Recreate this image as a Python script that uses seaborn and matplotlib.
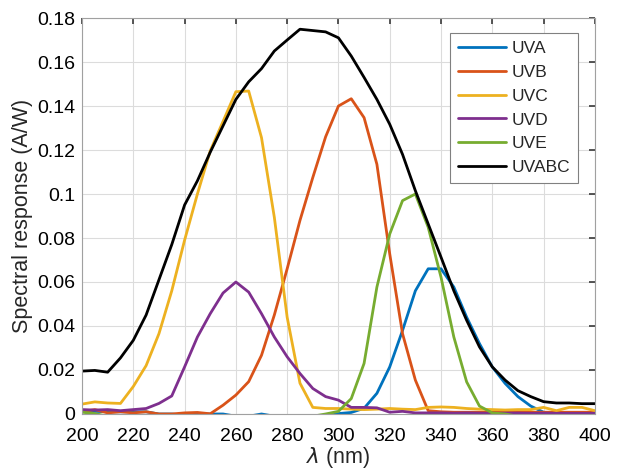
import numpy as np
import pandas as pd
import matplotlib
matplotlib.use("Agg")
import matplotlib.pyplot as plt
import seaborn as sns

wavelength = list(range(200, 401, 5))

uva = [0.0015, 0.0012, 0.001, 0.001, 0.001, 0.001, 0.0, 0.0, -0.0005, 0.0,
       0.0, 0.0, -0.001, -0.001, 0.0, -0.001, -0.001, -0.001, -0.001, -0.001,
       0.0002, 0.0007, 0.0026, 0.0094, 0.0214, 0.038, 0.056, 0.066, 0.066, 0.0577,
       0.044, 0.032, 0.0214, 0.0139, 0.0079, 0.0036, 0.0008, 0.0, -0.0005, 0.0,
       0.0]
uvb = [0.001, 0.002, 0.0005, 0.001, 0.0005, 0.001, 0.0, 0.0, 0.0005, 0.0007,
       0.0001, 0.004, 0.0086, 0.0147, 0.0267, 0.045, 0.066, 0.088, 0.1075, 0.126,
       0.140, 0.1433, 0.1347, 0.1135, 0.0728, 0.0365, 0.0154, 0.0015, 0.001, 0.0008,
       0.0008, 0.0008, 0.0008, 0.0008, 0.0008, 0.0008, 0.0008, 0.0008, 0.0008, 0.0008,
       0.0008]
uvc = [0.0045, 0.0055, 0.005, 0.0048, 0.0125, 0.022, 0.0365, 0.056, 0.079, 0.100,
       0.1196, 0.133, 0.1465, 0.1468, 0.1256, 0.0894, 0.044, 0.014, 0.003, 0.0025,
       0.0025, 0.0022, 0.002, 0.0022, 0.0025, 0.0022, 0.002, 0.003, 0.0032, 0.003,
       0.0025, 0.0022, 0.002, 0.0018, 0.002, 0.002, 0.003, 0.0015, 0.003, 0.003,
       0.0015]
uvd = [0.002, 0.0018, 0.002, 0.0015, 0.002, 0.0025, 0.0048, 0.0082, 0.0214, 0.035,
       0.0456, 0.055, 0.060, 0.0554, 0.0456, 0.035, 0.026, 0.0184, 0.0116, 0.0079,
       0.0063, 0.003, 0.003, 0.0028, 0.0008, 0.0012, 0.0005, 0.0005, 0.0005, 0.0004,
       0.0005, 0.0004, 0.0003, 0.0004, 0.0004, 0.0003, 0.0004, 0.0003, 0.0003, 0.0003,
       0.0003]
uve = [0.0008, 0.0002, -0.001, -0.001, -0.001, -0.001, -0.001, -0.001, -0.001, -0.001,
       -0.001, -0.001, -0.001, -0.001, -0.001, -0.001, -0.001, -0.001, -0.001, 0.0,
       0.0012, 0.007, 0.023, 0.0577, 0.0818, 0.097, 0.100, 0.0849, 0.0622, 0.035,
       0.0146, 0.0036, 0.0005, 0.0, -0.001, -0.001, -0.001, -0.001, -0.001, -0.001,
       -0.001]
uvabc = [0.0195, 0.0198, 0.019, 0.0255, 0.0335, 0.045, 0.061, 0.077, 0.095, 0.106,
         0.119, 0.131, 0.143, 0.151, 0.157, 0.165, 0.170, 0.1749, 0.1743, 0.1737,
         0.171, 0.1627, 0.153, 0.143, 0.1317, 0.118, 0.1015, 0.0864, 0.0713, 0.056,
         0.0426, 0.0305, 0.0214, 0.0154, 0.0106, 0.0079, 0.0056, 0.005, 0.005, 0.0047,
         0.0047]

series = {"UVA": uva, "UVB": uvb, "UVC": uvc, "UVD": uvd, "UVE": uve, "UVABC": uvabc}
colors = ["#0072BD", "#D95319", "#EDB120", "#7E2F8E", "#77AC30", "#000000"]

df = pd.concat(
    [pd.DataFrame({"wl": wavelength, "resp": v, "band": k}) for k, v in series.items()],
    ignore_index=True,
)

sns.set_theme(style="white")
plt.rcParams["font.family"] = ["Liberation Sans", "DejaVu Sans"]

fig = plt.figure(figsize=(6.19, 4.74), dpi=100)
ax = fig.add_axes([0.1325, 0.1266, 0.8285, 0.8354])

sns.lineplot(data=df, x="wl", y="resp", hue="band", palette=colors,
             linewidth=2.0, ax=ax, legend=True)

ax.set_xlim(200, 400)
ax.set_ylim(0, 0.18)
ax.set_xticks(range(200, 401, 20))
ax.set_yticks(np.arange(0, 0.181, 0.02))
ax.set_yticklabels(["0", "0.02", "0.04", "0.06", "0.08", "0.1", "0.12",
                    "0.14", "0.16", "0.18"])
ax.grid(True, color="#dcdcdc", linewidth=0.8)
ax.set_axisbelow(True)
for s in ax.spines.values():
    s.set_color("#a0a0a0")
    s.set_linewidth(0.8)
ax.tick_params(direction="in", length=4, color="#404040", labelsize=14,
               top=True, right=True, labelcolor="black")
ax.tick_params(axis="y", pad=5)
ax.tick_params(axis="x", pad=10)
ax.set_xlabel(r"$\lambda$ (nm)", fontsize=15.5, labelpad=0)
ax.set_ylabel("Spectral response (A/W)", fontsize=15.5, labelpad=3)

leg = ax.legend(loc="upper right", bbox_to_anchor=(0.967, 0.962), borderaxespad=0,
                fontsize=12.5, handlelength=2.8, handletextpad=0.3, labelspacing=0.5,
                borderpad=0.45, frameon=True, fancybox=False, framealpha=1)
leg.get_frame().set_edgecolor("#808080")
leg.get_frame().set_linewidth(0.8)
for line in leg.get_lines():
    line.set_linewidth(2.0)

fig.savefig("out.png", dpi=100)
